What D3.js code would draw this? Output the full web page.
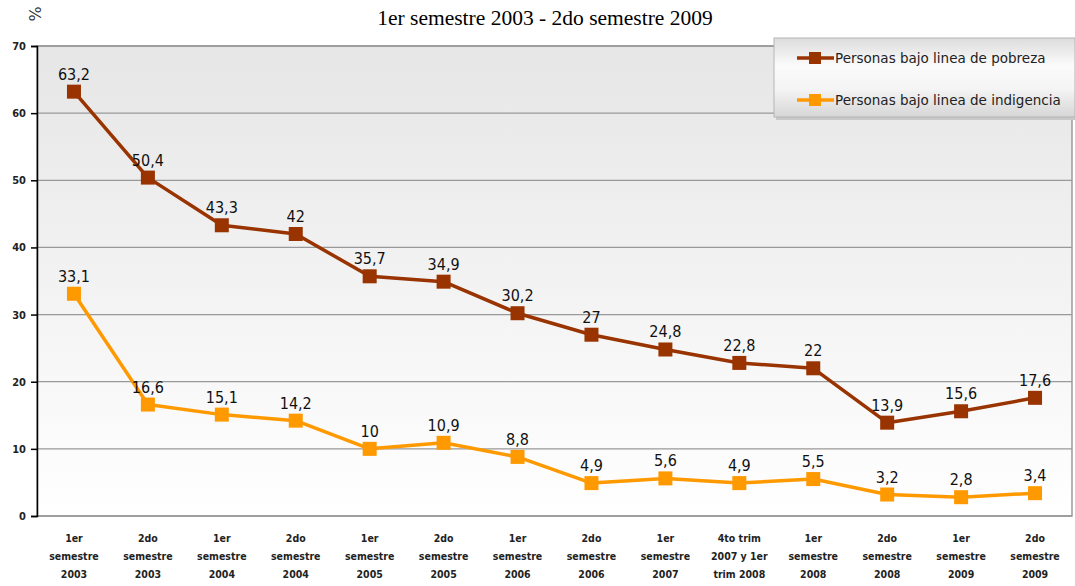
<!DOCTYPE html>
<html>
<head>
<meta charset="utf-8">
<script src="https://cdn.jsdelivr.net/npm/d3@7"></script>
<style>
  body { margin: 0; background: #fff; }
  svg { display: block; }
</style>
</head>
<body>
<div id="chart"></div>
<script>
// data
var periods = [
  ["1er", "semestre", "2003"], ["2do", "semestre", "2003"],
  ["1er", "semestre", "2004"], ["2do", "semestre", "2004"],
  ["1er", "semestre", "2005"], ["2do", "semestre", "2005"],
  ["1er", "semestre", "2006"], ["2do", "semestre", "2006"],
  ["1er", "semestre", "2007"], ["4to trim", "2007 y 1er", "trim 2008"],
  ["1er", "semestre", "2008"], ["2do", "semestre", "2008"],
  ["1er", "semestre", "2009"], ["2do", "semestre", "2009"]
];
var pobreza = [63.2, 50.4, 43.3, 42, 35.7, 34.9, 30.2, 27, 24.8, 22.8, 22, 13.9, 15.6, 17.6];
var indigencia = [33.1, 16.6, 15.1, 14.2, 10, 10.9, 8.8, 4.9, 5.6, 4.9, 5.5, 3.2, 2.8, 3.4];
var seriesNames = ["Personas bajo linea de pobreza", "Personas bajo linea de indigencia"];
var yTicks = [0, 10, 20, 30, 40, 50, 60, 70];

var svgWidth = 1075;
var svgHeight = 586;
var margin = { top: 46, right: 3, bottom: 70, left: 37 };
var width = svgWidth - margin.left - margin.right;
var height = svgHeight - margin.top - margin.bottom;

var colors = ["#993300", "#ff9900"];

var svg = d3.select("#chart")
  .append("svg")
  .attr("width", svgWidth)
  .attr("height", svgHeight);

var defs = svg.append("defs");
var bg = defs.append("linearGradient")
  .attr("id", "bg").attr("x1", 0).attr("y1", 0).attr("x2", 0).attr("y2", 1);
bg.append("stop").attr("offset", "0%").attr("stop-color", "#e6e6e6");
bg.append("stop").attr("offset", "100%").attr("stop-color", "#ffffff");

var lg = defs.append("linearGradient")
  .attr("id", "lg").attr("x1", 0).attr("y1", 0).attr("x2", 0).attr("y2", 1);
lg.append("stop").attr("offset", "0%").attr("stop-color", "#dcdcdc");
lg.append("stop").attr("offset", "35%").attr("stop-color", "#fbfbfb");
lg.append("stop").attr("offset", "65%").attr("stop-color", "#f4f4f4");
lg.append("stop").attr("offset", "100%").attr("stop-color", "#d6d6d6");

// title
svg.append("text")
  .attr("x", 545)
  .attr("y", 25)
  .attr("text-anchor", "middle")
  .style("font-family", "'Liberation Serif', 'DejaVu Serif', serif")
  .style("font-size", "21.5px")
  .text("1er semestre 2003 - 2do semestre 2009");

svg.append("text")
  .attr("transform", "translate(41, 14) rotate(-90)")
  .attr("text-anchor", "middle")
  .style("font-family", "'DejaVu Sans', sans-serif")
  .style("font-size", "16px")
  .attr("fill", "#333")
  .text("%");

var chartGroup = svg.append("g")
  .attr("transform", `translate(${margin.left}, ${margin.top})`);

var xScale = d3.scaleBand()
  .domain(d3.range(periods.length))
  .range([0, width]);

var yScale = d3.scaleLinear()
  .domain([0, 70])
  .range([height, 0]);

chartGroup.append("rect")
  .attr("width", width)
  .attr("height", height)
  .attr("fill", "url(#bg)")
  .attr("stroke", "#9a9a9a")
  .attr("stroke-width", 1.5);

// gridlines
chartGroup.selectAll(".grid")
  .data(yTicks)
  .enter()
  .append("line")
  .attr("x1", 0)
  .attr("x2", width)
  .attr("y1", d => yScale(d))
  .attr("y2", d => yScale(d))
  .attr("stroke", "#999")
  .attr("stroke-width", 1.3);

// y axis
var leftAxis = d3.axisLeft(yScale).tickValues(yTicks).tickSize(6).tickPadding(5);
var yAxis = chartGroup.append("g").call(leftAxis);
yAxis.select(".domain").attr("stroke", "#000").attr("stroke-width", 1.5);
yAxis.selectAll(".tick line").attr("stroke", "#000").attr("stroke-width", 1.5);
yAxis.selectAll("text")
  .style("font-family", "'DejaVu Sans Condensed', 'DejaVu Sans', sans-serif")
  .style("font-weight", "bold")
  .style("font-size", "11px")
  .attr("fill", "#222");

// x labels
var xLabels = chartGroup.selectAll(".xlab")
  .data(periods)
  .enter()
  .append("text")
  .attr("text-anchor", "middle")
  .attr("x", (d, i) => xScale(i) + xScale.bandwidth() / 2)
  .attr("y", height + 26)
  .style("font-family", "'DejaVu Sans Condensed', 'DejaVu Sans', sans-serif")
  .style("font-weight", "bold")
  .style("font-size", "10.5px")
  .attr("fill", "#222");

xLabels.selectAll("tspan")
  .data(d => d)
  .enter()
  .append("tspan")
  .attr("x", function() { return d3.select(this.parentNode).attr("x"); })
  .attr("dy", (d, i) => i === 0 ? 0 : 18)
  .text(d => d);

var line = d3.line()
  .x((d, i) => xScale(i) + xScale.bandwidth() / 2)
  .y(d => yScale(d));

var fmt = d => String(d).replace(".", ",");

[indigencia, pobreza].forEach(function(data, k) {
  var color = k === 0 ? colors[1] : colors[0];
  var g = chartGroup.append("g");
  g.append("path")
    .datum(data)
    .attr("d", line)
    .attr("fill", "none")
    .attr("stroke", color)
    .attr("stroke-width", 3.5)
    .attr("stroke-linejoin", "round");

  g.selectAll("rect")
    .data(data)
    .enter()
    .append("rect")
    .attr("x", (d, i) => xScale(i) + xScale.bandwidth() / 2 - 7)
    .attr("y", d => yScale(d) - 7)
    .attr("width", 14)
    .attr("height", 14)
    .attr("fill", color);

  g.selectAll("text")
    .data(data)
    .enter()
    .append("text")
    .attr("x", (d, i) => xScale(i) + xScale.bandwidth() / 2)
    .attr("y", d => yScale(d) - 12)
    .attr("text-anchor", "middle")
    .style("font-family", "'DejaVu Sans Condensed', 'DejaVu Sans', sans-serif")
    .style("font-size", "16px")
    .attr("fill", "#111")
    .text(d => fmt(d));
});

// legend
var legend = svg.append("g").attr("transform", "translate(774, 38)");
legend.append("rect")
  .attr("x", 2).attr("y", 2)
  .attr("width", 301).attr("height", 80)
  .attr("fill", "#c8c8c8");
legend.append("rect")
  .attr("width", 301).attr("height", 79)
  .attr("fill", "url(#lg)")
  .attr("stroke", "#b5b5b5");

seriesNames.forEach(function(name, i) {
  var y = 20 + i * 42;
  legend.append("line")
    .attr("x1", 23).attr("x2", 60)
    .attr("y1", y).attr("y2", y)
    .attr("stroke", colors[i]).attr("stroke-width", 3.5);
  legend.append("rect")
    .attr("x", 35).attr("y", y - 6)
    .attr("width", 12).attr("height", 12)
    .attr("fill", colors[i]);
  legend.append("text")
    .attr("x", 61).attr("y", y + 5)
    .style("font-family", "'DejaVu Sans', sans-serif")
    .style("font-size", "13.5px")
    .attr("fill", "#222")
    .text(name);
});
</script>
</body>
</html>
